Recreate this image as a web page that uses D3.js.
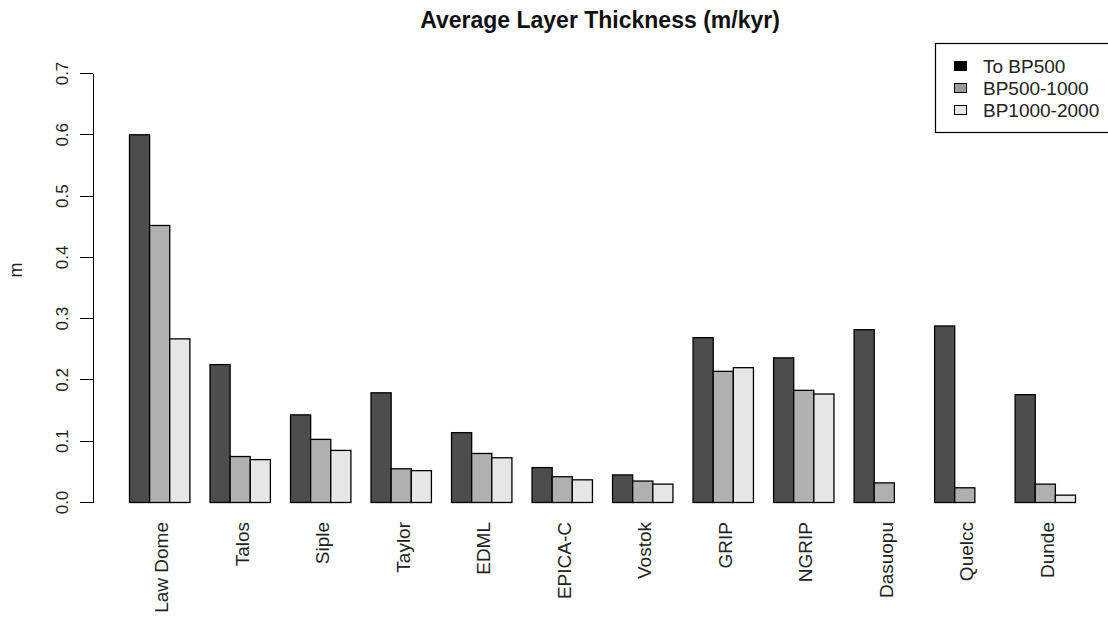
<!DOCTYPE html>
<html>
<head>
    <meta charset="UTF-8">
    <style>
        body { margin: 0; background: #fff; }
        text { font-family: "Liberation Sans", Arial, sans-serif; }
        .axis path, .axis line {
            fill: none;
            stroke: black;
            shape-rendering: crispEdges;
        }
    </style>
</head>
<body>
    <script src="https://cdn.jsdelivr.net/npm/d3@7"></script>
    <script>
        var sites = ["Law Dome", "Talos", "Siple", "Taylor", "EDML", "EPICA-C",
                     "Vostok", "GRIP", "NGRIP", "Dasuopu", "Quelcc", "Dunde"];
        var series = ["To BP500", "BP500-1000", "BP1000-2000"];
        var toBP500 = [0.600, 0.225, 0.143, 0.179, 0.114, 0.057, 0.045, 0.269, 0.236, 0.282, 0.288, 0.176];
        var bp500_1000 = [0.452, 0.075, 0.103, 0.055, 0.080, 0.042, 0.035, 0.214, 0.183, 0.032, 0.024, 0.030];
        var bp1000_2000 = [0.267, 0.070, 0.085, 0.052, 0.073, 0.037, 0.030, 0.220, 0.177, 0, 0, 0.012];
        var yTicks = [0, 0.1, 0.2, 0.3, 0.4, 0.5, 0.6, 0.7];

        var barColors = ["#4d4d4d", "#b0b0b0", "#e6e6e6"];
        var legendColors = ["#000000", "#999999", "#e6e6e6"];

        var w = 1108;
        var h = 617;

        var values = [toBP500, bp500_1000, bp1000_2000];
        var table = sites.map((s, i) => ({
            site: s,
            vals: series.map((k, j) => ({ key: k, j: j, v: values[j][i] }))
        }));

        var svg = d3.select("body")
            .append("svg")
            .attr("width", w)
            .attr("height", h);

        var xScale = d3.scaleBand()
            .domain(sites)
            .range([129, 1075])
            .paddingInner(0.25)
            .paddingOuter(0);
        var xInner = d3.scaleBand()
            .domain(series)
            .range([0, xScale.bandwidth()]);
        var yScale = d3.scaleLinear()
            .domain([0, 0.7])
            .range([502, 73]);

        // bars
        var groups = svg.selectAll("g.site")
            .data(table)
            .enter()
            .append("g")
            .attr("class", "site")
            .attr("transform", d => `translate(${xScale(d.site)},0)`);
        groups.selectAll("rect")
            .data(d => d.vals.filter(e => e.v > 0))
            .enter()
            .append("rect")
            .attr("x", d => xInner(d.key) + 0.5)
            .attr("y", d => yScale(d.v) + 0.5)
            .attr("width", xInner.bandwidth())
            .attr("height", d => yScale(0) - yScale(d.v))
            .attr("fill", d => barColors[d.j])
            .attr("stroke", "black")
            .attr("stroke-width", 1.3);

        // y axis
        var yAxis = d3.axisLeft(yScale)
            .tickValues(yTicks)
            .tickFormat(d3.format(".1f"))
            .tickSize(13)
            .tickSizeOuter(0);
        var gy = svg.append("g")
            .attr("class", "axis")
            .attr("transform", "translate(92.5,0)")
            .call(yAxis);
        gy.selectAll(".tick text")
            .attr("transform", "rotate(-90)")
            .attr("x", 0)
            .attr("y", -25)
            .attr("dy", 0)
            .attr("text-anchor", "middle")
            .attr("fill", "#222")
            .style("font-size", "17px");

        // x labels
        svg.append("g")
            .selectAll("text")
            .data(sites)
            .enter()
            .append("text")
            .attr("transform", d => `translate(${xScale(d) + xScale.bandwidth() / 2 + 9},522) rotate(-90)`)
            .attr("text-anchor", "end")
            .attr("fill", "#222")
            .style("font-size", "19px")
            .text(d => d);

        // title + y label
        svg.append("text")
            .attr("x", 600)
            .attr("y", 28)
            .attr("text-anchor", "middle")
            .style("font-size", "23px")
            .style("font-weight", "bold")
            .attr("fill", "#111")
            .text("Average Layer Thickness (m/kyr)");
        svg.append("text")
            .attr("transform", "translate(22,270) rotate(-90)")
            .attr("text-anchor", "middle")
            .style("font-size", "18px")
            .attr("fill", "#222")
            .text("m");

        // legend
        var lg = svg.append("g");
        lg.append("rect")
            .attr("x", 935.5)
            .attr("y", 43.5)
            .attr("width", 180)
            .attr("height", 89)
            .attr("fill", "white")
            .attr("stroke", "black")
            .attr("stroke-width", 1.2);
        var rows = lg.selectAll("g.row")
            .data(series)
            .enter()
            .append("g")
            .attr("transform", (d, i) => `translate(0,${66 + i * 22})`);
        rows.append("rect")
            .attr("x", 954.5)
            .attr("y", -4.5)
            .attr("width", 12)
            .attr("height", 9)
            .attr("fill", (d, i) => legendColors[i])
            .attr("stroke", "black");
        rows.append("text")
            .attr("x", 983)
            .attr("y", 6.5)
            .style("font-size", "19px")
            .attr("fill", "#222")
            .text(d => d);
    </script>
</body>
</html>
